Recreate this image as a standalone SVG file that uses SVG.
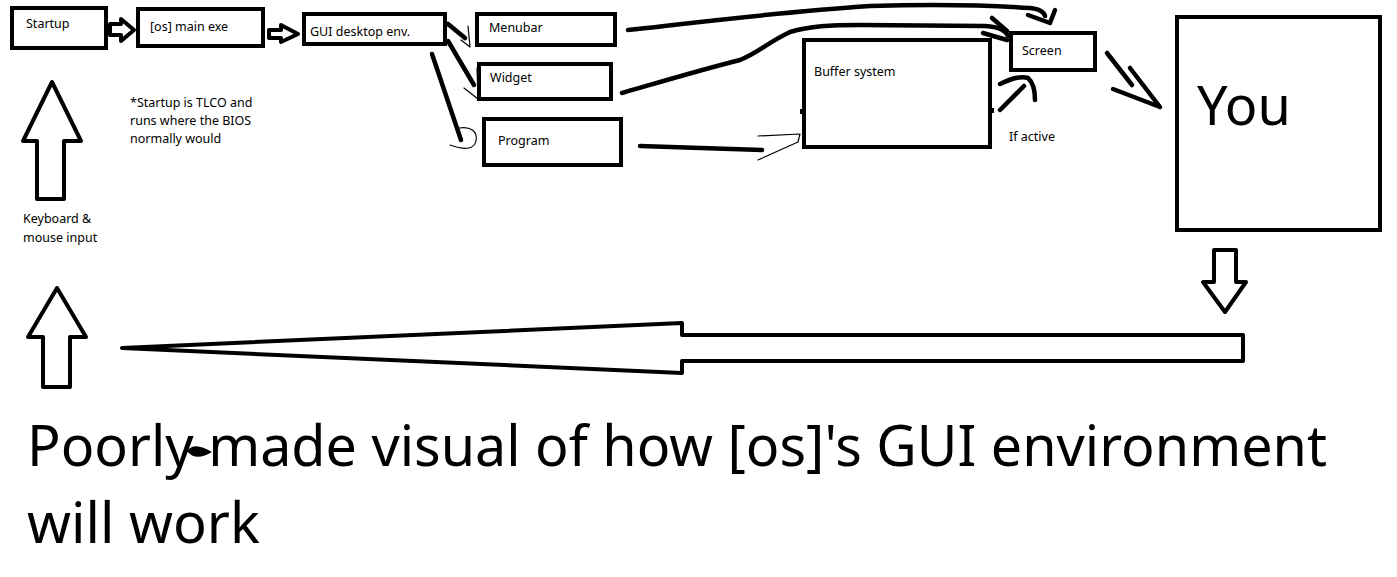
<svg xmlns="http://www.w3.org/2000/svg" width="1397" height="577" viewBox="0 0 1397 577">
<style>
.box{fill:#fff;stroke:#000;stroke-width:4}
.blk{fill:#fff;stroke:#000;stroke-width:4;stroke-linejoin:round}
.thick{fill:none;stroke:#000;stroke-width:4.5;stroke-linecap:round;stroke-linejoin:round}
.thin{fill:none;stroke:#000;stroke-width:1.2;stroke-linecap:round;stroke-linejoin:round}
.t{font-family:"Noto Sans","Open Sans","DejaVu Sans",sans-serif;font-size:12.5px;fill:#000}
.big{font-family:"Noto Sans","Open Sans","DejaVu Sans",sans-serif;fill:#000}
</style>
<rect width="1397" height="577" fill="#fff"/>
<g id="startup"><rect class="box" x="12" y="8" width="94" height="40"/><text class="t" x="26" y="28">Startup</text></g>
<g id="main-exe"><rect class="box" x="138" y="9" width="125" height="37"/><text class="t" x="150" y="31">[os] main exe</text></g>
<g id="gui-env"><rect class="box" x="304" y="14" width="141" height="30"/><text class="t" x="310" y="36">GUI desktop env.</text></g>
<g id="menubar"><rect class="box" x="477" y="14" width="138" height="31"/><text class="t" x="489" y="32">Menubar</text></g>
<g id="widget"><rect class="box" x="479" y="64" width="132" height="35"/><text class="t" x="490" y="82">Widget</text></g>
<g id="program"><rect class="box" x="484" y="119" width="137" height="46"/><text class="t" x="498" y="145">Program</text></g>
<g id="buffer"><rect class="box" x="804" y="40" width="186" height="107"/><rect x="800" y="109" width="6" height="5"/><rect x="989" y="108" width="5" height="5"/><text class="t" x="814" y="76">Buffer system</text></g>
<g id="screen"><rect class="box" x="1011" y="33" width="84" height="37"/><text class="t" x="1022" y="55">Screen</text></g>
<g id="you"><rect class="box" x="1177" y="17" width="203" height="213"/><text class="big" x="1197" y="125" font-size="54">You</text></g>
<g id="note"><text class="t" x="130" y="107">*Startup is TLCO and</text><text class="t" x="130" y="125">runs where the BIOS</text><text class="t" x="130" y="143">normally would</text></g>
<g id="input-label"><text class="t" x="23" y="223">Keyboard &amp;</text><text class="t" x="23" y="242">mouse input</text></g>
<g id="if-active"><text class="t" x="1009" y="141">If active</text></g>
<g id="title"><text class="big" x="27" y="466" font-size="56" textLength="1300" lengthAdjust="spacingAndGlyphs">Poorly made visual of how [os]'s GUI environment</text><text class="big" x="27" y="543" font-size="56">will work</text><path d="M187,451 C192,444 200,445 212,452 C202,458 193,459 187,451 Z" fill="#000"/></g>
<g id="connectors">
<polygon class="blk" points="110,24 121,24 121,19 134,30 121,41 121,35 110,35"/>
<polygon class="blk" points="269,30 281,30 281,25 298,34 281,42 281,38 269,38"/>
<polygon class="blk" points="52,82 81,141 64,141 64,199 37,199 37,141 23,141"/>
<polygon class="blk" points="57,288 86,337 70,337 70,387 43,387 43,337 28,337"/>
<polygon class="blk" points="1214,250 1236,250 1236,282 1246,282 1225,312 1203,282 1214,282"/>
<polygon class="blk" points="122,348 682,323 682,335 1243,335 1243,361 682,361 682,373"/>
<path class="thick" d="M448,24 L465,38"/>
<path class="thin" d="M468,26 L470,47 L461,40"/>
<path class="thick" d="M448,41 L474,85"/>
<path class="thin" d="M477,68 L478,99 L464,88"/>
<path class="thick" d="M432,54 L461,140"/>
<path class="thin" d="M459,128 C470,126 478,131 476,141 C474,150 464,150 450,145"/>
<path class="thick" d="M640,146 L762,150"/>
<path class="thin" d="M758,136 L800,134 L798,142 L758,160"/>
<path class="thick" d="M628,30 C700,22 780,12 870,6 C940,4 1000,6 1030,8 C1040,9 1044,12 1045,16"/>
<path class="thick" d="M1028,15 L1050,23 L1055,10"/>
<path class="thick" d="M622,93 C650,85 700,70 740,60 C760,52 765,44 790,32 C810,26 830,25 860,25 L985,26 C1000,27 1005,30 1008,36"/>
<path class="thick" d="M992,18 L1007,31 M983,33 L1007,40"/>
<path class="thick" d="M1000,110 L1024,86 M1000,84 Q1018,75 1028,78 Q1035,84 1035,100"/>
<path class="thick" d="M1107,53 L1132,85 M1130,68 L1160,107 M1113,89 L1160,107"/>
</g>
</svg>
